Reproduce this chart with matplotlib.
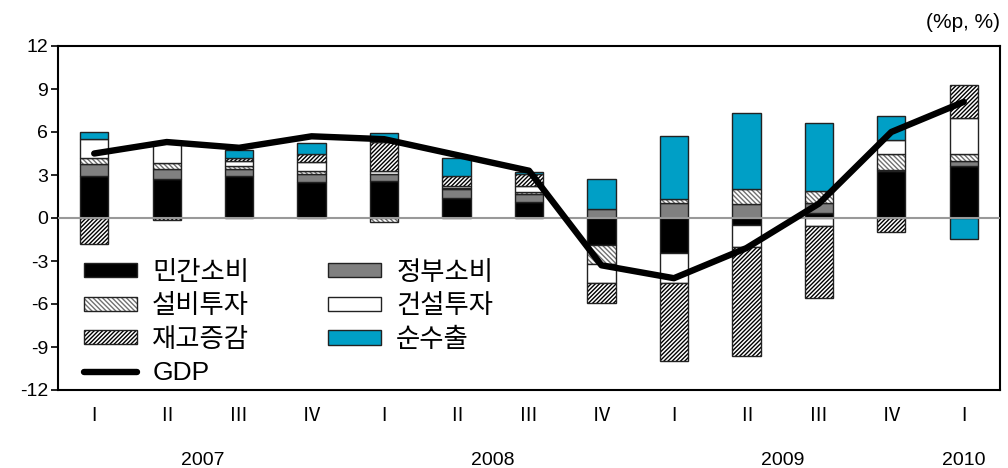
import numpy as np
import matplotlib.pyplot as plt
from matplotlib.patches import Patch
from matplotlib.lines import Line2D

plt.rcParams['font.family'] = ['Liberation Sans', 'Noto Sans CJK KR', 'DejaVu Sans']
plt.rcParams['hatch.linewidth'] = 1.0
plt.rcParams['axes.unicode_minus'] = False

# quarterly contribution to GDP growth (%p) and GDP growth (%)
quarters = ['Ⅰ', 'Ⅱ', 'Ⅲ', 'Ⅳ', 'Ⅰ', 'Ⅱ', 'Ⅲ', 'Ⅳ', 'Ⅰ', 'Ⅱ', 'Ⅲ', 'Ⅳ', 'Ⅰ']
years = ['2007', '2007', '2007', '2007', '2008', '2008', '2008', '2008',
         '2009', '2009', '2009', '2009', '2010']
private = [2.9, 2.75, 2.9, 2.5, 2.55, 1.4, 1.1, -1.9, -2.45, -0.5, 0.35, 3.3, 3.6]
gov = [0.9, 0.7, 0.55, 0.55, 0.55, 0.6, 0.55, 0.6, 1.05, 1.0, 0.7, 0.05, 0.4]
equip = [0.4, 0.4, 0.2, 0.25, -0.3, 0.1, 0.15, -1.3, 0.25, 1.0, 0.85, 1.15, 0.5]
constr = [1.3, 1.45, 0.3, 0.6, 0.2, 0.1, 0.4, -1.3, -2.1, -1.55, -0.55, 0.95, 2.5]
inventory = [-1.8, -0.15, 0.25, 0.55, 2.0, 0.75, 0.9, -1.45, -5.45, -7.6, -5.0, -1.0, 2.3]
netexp = [0.5, 0.0, 0.55, 0.75, 0.6, 1.25, 0.1, 2.1, 4.4, 5.35, 4.75, 1.7, -1.45]
gdp = [4.5, 5.3, 4.9, 5.7, 5.5, 4.4, 3.3, -3.3, -4.2, -2.1, 1.0, 6.0, 8.1]

labels = ['민간소비', '정부소비', '설비투자', '건설투자', '재고증감', '순수출']
# (values, facecolor, hatch, hatch colour)
series = [
    (private, 'black', None, None),
    (gov, '#808080', None, None),
    (equip, 'white', '\\' * 7, '#707070'),
    (constr, 'white', None, None),
    (inventory, 'white', '/' * 8, 'black'),
    (netexp, '#009fc6', None, None),
]

fig = plt.figure(figsize=(10.08, 4.68), dpi=100)
ax = fig.add_axes([58 / 1008, 1 - 390 / 468, 942 / 1008, 344 / 468])

x = np.arange(len(gdp))
width = 0.39
pos_base = np.zeros(len(x))
neg_base = np.zeros(len(x))
handles = []
for (vals, fc, hatch, hc), lab in zip(series, labels):
    v = np.array(vals, dtype=float)
    base = np.where(v >= 0, pos_base, neg_base)
    if hatch:
        ax.bar(x, v, width, bottom=base, facecolor=fc, edgecolor=hc,
               hatch=hatch, linewidth=0, zorder=2)
        ax.bar(x, v, width, bottom=base, fill=False, edgecolor='#222222',
               linewidth=1.0, zorder=2)
        h = (Patch(facecolor=fc, edgecolor=hc, hatch=hatch, linewidth=0),
             Patch(fill=False, edgecolor='#222222', linewidth=1.0))
    else:
        ax.bar(x, v, width, bottom=base, facecolor=fc, edgecolor='#222222',
               linewidth=1.0, zorder=2)
        h = Patch(facecolor=fc, edgecolor='#222222', linewidth=1.0)
    handles.append(h)
    pos_base += np.clip(v, 0, None)
    neg_base += np.clip(v, None, 0)

ax.axhline(0, color='#999999', linewidth=1.5, zorder=3)
ax.plot(x, gdp, color='black', linewidth=4.6, solid_capstyle='round', zorder=5)

ax.set_xlim(-0.5, len(x) - 0.5)
ax.set_ylim(-12, 12)
ax.set_yticks(np.arange(-12, 13, 3))
ax.tick_params(axis='y', direction='out', length=5, width=1.2, labelsize=14, pad=2)
ax.set_xticks(x)
ax.set_xticklabels(quarters)
ax.tick_params(axis='x', length=0, labelsize=14, pad=13)
for s in ax.spines.values():
    s.set_linewidth(1.5)
    s.set_color('black')

# year labels centred under their quarters
for yr in dict.fromkeys(years):
    idx = [i for i, y in enumerate(years) if y == yr]
    ax.text(np.mean(idx), -0.205, yr, transform=ax.get_xaxis_transform(),
            ha='center', va='center', fontsize=14)

fig.text(1000 / 1008, 1 - 22 / 468, '(%p, %)', ha='right', va='center', fontsize=15)

gdp_handle = Line2D([], [], color='black', linewidth=4.6, solid_capstyle='round')
order = [handles[0], handles[2], handles[4], gdp_handle, handles[1], handles[3], handles[5]]
order_labels = [labels[0], labels[2], labels[4], 'GDP', labels[1], labels[3], labels[5]]
ax.legend(order, order_labels, ncol=2, loc='upper left', bbox_to_anchor=(0.028, 0.376),
          frameon=False, fontsize=19, handlelength=2.0, handleheight=0.45,
          handletextpad=0.57, columnspacing=3.0, labelspacing=0.36,
          borderpad=0, borderaxespad=0)

fig.savefig('out.png', dpi=100)
